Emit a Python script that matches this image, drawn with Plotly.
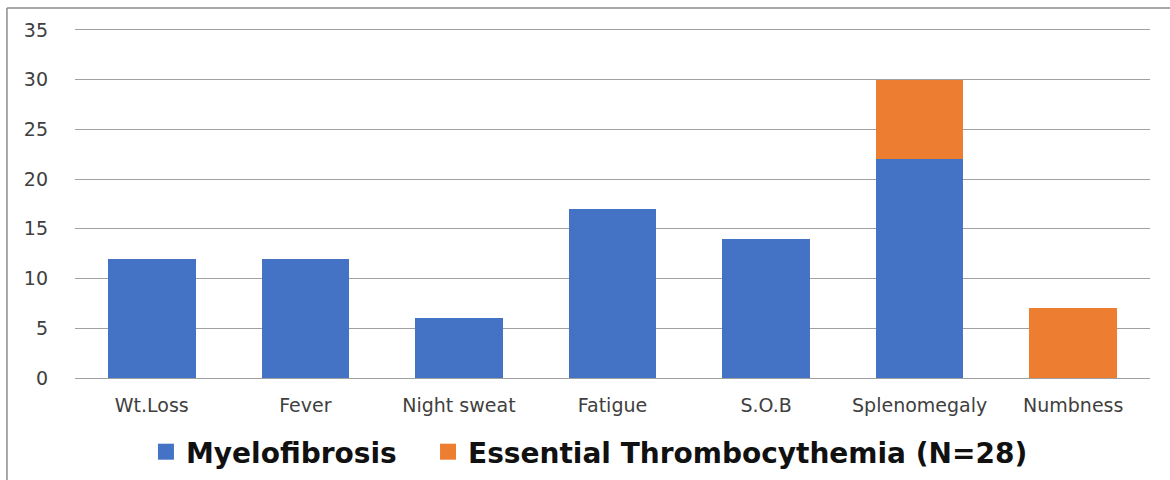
import plotly.graph_objects as go

categories = ["Wt.Loss", "Fever", "Night sweat", "Fatigue", "S.O.B", "Splenomegaly", "Numbness"]
myelofibrosis = [12, 12, 6, 17, 14, 22, 0]
essential_thrombocythemia = [0, 0, 0, 0, 0, 8, 7]
y_ticks = [0, 5, 10, 15, 20, 25, 30, 35]

BLUE = "#4472C4"
ORANGE = "#ED7D31"

fig = go.Figure()
fig.add_trace(go.Bar(x=categories, y=myelofibrosis, name="Myelofibrosis", showlegend=False,
                     marker=dict(color=BLUE, line=dict(width=0))))
fig.add_trace(go.Bar(x=categories, y=essential_thrombocythemia, name="Essential Thrombocythemia (N=28)",
                     showlegend=False, marker=dict(color=ORANGE, line=dict(width=0))))
# legend entries (square swatches), each in its own legend box
fig.add_trace(go.Scatter(x=[None], y=[None], mode="markers", name="Myelofibrosis", legend="legend",
                         marker=dict(symbol="square", size=16, color=BLUE)))
fig.add_trace(go.Scatter(x=[None], y=[None], mode="markers", name="Essential Thrombocythemia (N=28)",
                         legend="legend2", marker=dict(symbol="square", size=16, color=ORANGE)))

legend_font = dict(size=28, color="#111111", family="DejaVu Sans", weight="bold")
fig.update_layout(
    barmode="stack",
    bargap=0.43,
    width=1170, height=480,
    margin=dict(l=75, r=20, t=20, b=102, autoexpand=False),
    paper_bgcolor="white", plot_bgcolor="white",
    font=dict(family="DejaVu Sans", color="#404040", size=19),
    xaxis=dict(showgrid=False, showline=False, ticks="", automargin=False, ticklabelstandoff=14,
               tickfont=dict(size=19, color="#404040")),
    yaxis=dict(range=[0, 36], tickvals=y_ticks, showgrid=True, gridcolor="#a0a0a0", gridwidth=1,
               zeroline=True, zerolinecolor="#a0a0a0", zerolinewidth=1, automargin=False,
               ticks="", ticklabelstandoff=26, tickfont=dict(size=19, color="#404040")),
    legend=dict(orientation="h", x=0.066, xanchor="left", y=-0.2067, yanchor="middle",
                font=legend_font, itemsizing="trace", bgcolor="rgba(0,0,0,0)"),
    legend2=dict(orientation="h", x=0.3284, xanchor="left", y=-0.2067, yanchor="middle",
                 font=legend_font, itemsizing="trace", bgcolor="rgba(0,0,0,0)"),
    showlegend=True,
    shapes=[
        dict(type="line", xref="paper", yref="paper", x0=-0.0633, x1=1.2, y0=1.0335, y1=1.0335,
             line=dict(color="#8c8c8c", width=1.5)),
        dict(type="line", xref="paper", yref="paper", x0=-0.0633, x1=-0.0633, y0=1.0335, y1=-0.4,
             line=dict(color="#8c8c8c", width=1.5)),
    ],
)

fig.write_html("out.html", post_script="document.body.style.margin='0';",
               config={"displayModeBar": False})
